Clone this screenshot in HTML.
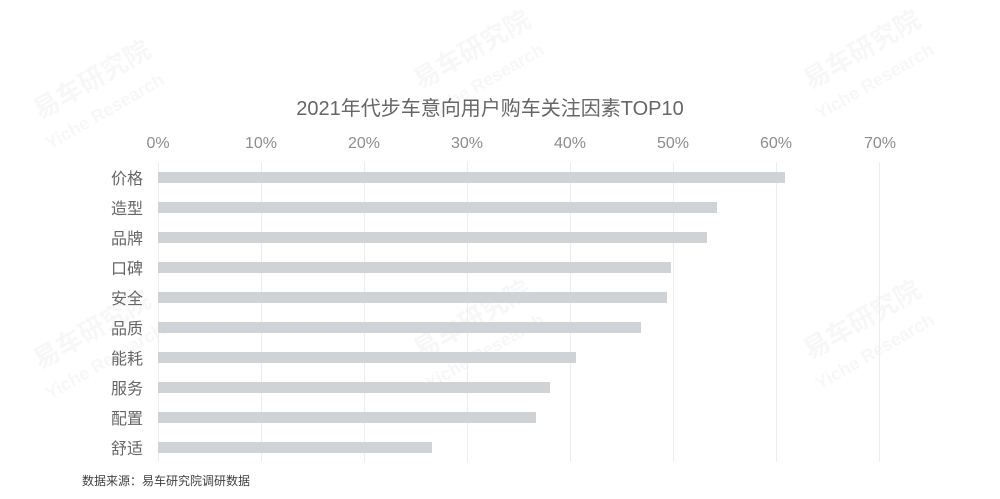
<!DOCTYPE html>
<html><head><meta charset="utf-8"><style>
body{margin:0;background:#fff;}
svg text{font-family:"Liberation Sans","Noto Sans CJK SC",sans-serif;}
</style></head><body>
<svg width="1000" height="494" xmlns="http://www.w3.org/2000/svg">
<g fill="#000" opacity="0.035" font-size="26" font-weight="bold">
<text transform="translate(40,120) rotate(-30)">易车研究院</text>
<text transform="translate(50,150) rotate(-30)" font-size="18">Yiche Research</text>
<text transform="translate(420,90) rotate(-30)">易车研究院</text>
<text transform="translate(430,120) rotate(-30)" font-size="18">Yiche Research</text>
<text transform="translate(810,90) rotate(-30)">易车研究院</text>
<text transform="translate(820,120) rotate(-30)" font-size="18">Yiche Research</text>
<text transform="translate(40,370) rotate(-30)">易车研究院</text>
<text transform="translate(50,400) rotate(-30)" font-size="18">Yiche Research</text>
<text transform="translate(420,360) rotate(-30)">易车研究院</text>
<text transform="translate(430,390) rotate(-30)" font-size="18">Yiche Research</text>
<text transform="translate(810,360) rotate(-30)">易车研究院</text>
<text transform="translate(820,390) rotate(-30)" font-size="18">Yiche Research</text>
</g>
<text x="490" y="115" text-anchor="middle" font-size="20" fill="#666">2021年代步车意向用户购车关注因素TOP10</text>
<g stroke="#ededed" stroke-width="1">
<line x1="158.5" y1="162" x2="158.5" y2="462"/><line x1="261.5" y1="162" x2="261.5" y2="462"/>
<line x1="364.5" y1="162" x2="364.5" y2="462"/><line x1="467.5" y1="162" x2="467.5" y2="462"/>
<line x1="570.5" y1="162" x2="570.5" y2="462"/><line x1="673.5" y1="162" x2="673.5" y2="462"/>
<line x1="776.5" y1="162" x2="776.5" y2="462"/><line x1="879.5" y1="162" x2="879.5" y2="462"/>
</g>
<g font-size="16" fill="#8c8c8c" text-anchor="middle">
<text x="158" y="148">0%</text><text x="261" y="148">10%</text><text x="364" y="148">20%</text>
<text x="467" y="148">30%</text><text x="570" y="148">40%</text><text x="673" y="148">50%</text>
<text x="776" y="148">60%</text><text x="880" y="148">70%</text>
</g>
<g fill="#d0d3d6">
<rect x="158" y="172" width="627" height="11"/>
<rect x="158" y="202" width="559" height="11"/>
<rect x="158" y="232" width="549" height="11"/>
<rect x="158" y="262" width="513" height="11"/>
<rect x="158" y="292" width="509" height="11"/>
<rect x="158" y="322" width="483" height="11"/>
<rect x="158" y="352" width="418" height="11"/>
<rect x="158" y="382" width="392" height="11"/>
<rect x="158" y="412" width="378" height="11"/>
<rect x="158" y="442" width="274" height="11"/>
</g>
<g font-size="16" fill="#666" text-anchor="end">
<text x="143" y="184">价格</text><text x="143" y="214">造型</text><text x="143" y="244">品牌</text>
<text x="143" y="274">口碑</text><text x="143" y="304">安全</text><text x="143" y="334">品质</text>
<text x="143" y="364">能耗</text><text x="143" y="394">服务</text><text x="143" y="424">配置</text>
<text x="143" y="454">舒适</text>
</g>
<text x="82" y="485" font-size="12" fill="#404040">数据来源：易车研究院调研数据</text>
</svg>
</body></html>
